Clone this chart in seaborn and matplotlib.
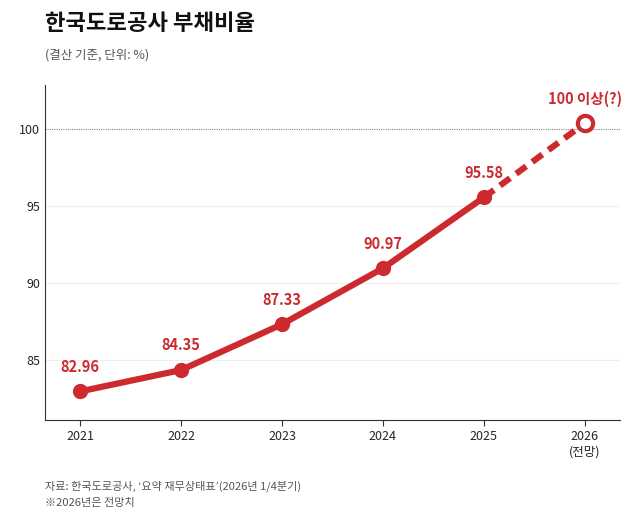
import matplotlib
matplotlib.use("Agg")
import matplotlib.pyplot as plt
import seaborn as sns
import pandas as pd

years = [2021, 2022, 2023, 2024, 2025]
ratios = [82.96, 84.35, 87.33, 90.97, 95.58]
proj_year = 2026
proj_val = 100.4
xtick_labels = ["2021", "2022", "2023", "2024", "2025", "2026\n(전망)"]
yticks = [85, 90, 95, 100]

sns.set_style("white")
plt.rcParams['font.family'] = ['Noto Sans CJK KR', 'DejaVu Sans']
red = "#cc2a2f"

fig = plt.figure(figsize=(6.4, 5.27), dpi=100)
ax = fig.add_axes([0.070, 0.203, 0.899, 0.636])
df = pd.DataFrame({"year": years, "ratio": ratios})
sns.lineplot(data=df, x="year", y="ratio", ax=ax, color=red, lw=4.5,
             marker="o", markersize=11, markeredgewidth=0)
ax.plot([years[-1], proj_year], [ratios[-1], proj_val], color=red, lw=4.5,
        ls=(0, (2, 1.2)), zorder=2)
ax.plot([proj_year], [proj_val], marker="o", ms=11, mfc="white", mec=red,
        mew=3, zorder=3)
for x, y in zip(years, ratios):
    ax.annotate(f"{y:.2f}", (x, y), xytext=(0, 12), textcoords="offset points",
                ha="center", va="bottom", color=red, fontsize=10.5, fontweight="bold")
ax.annotate("100 이상(?)", (proj_year, proj_val), xytext=(0, 12), textcoords="offset points",
            ha="center", va="bottom", color=red, fontsize=10.5, fontweight="bold")

ax.axhline(100, color="#888888", lw=0.8, ls=(0, (1, 1)), zorder=0)
for t in [85, 90, 95]:
    ax.axhline(t, color="#eeeeee", lw=0.8, zorder=0)
ax.set_xlim(2020.65, 2026.35)
ax.set_ylim(81.1, 102.9)
ax.set_xticks(years + [proj_year])
ax.set_xticklabels(xtick_labels, fontsize=9)
ax.set_yticks(yticks)
ax.tick_params(axis="y", labelsize=9, length=0)
ax.tick_params(axis="x", length=4, color="#333333", bottom=True)
ax.set_xlabel("")
ax.set_ylabel("")
for s in ["top", "right"]:
    ax.spines[s].set_visible(False)
ax.spines["left"].set_color("#333333")
ax.spines["bottom"].set_color("#333333")

fig.text(0.070, 0.955, "한국도로공사 부채비율", fontsize=16, fontweight="bold", va="center", color="#111111")
fig.text(0.070, 0.895, "(결산 기준, 단위: %)", fontsize=9, color="#555555", va="center")
fig.text(0.070, 0.077, "자료: 한국도로공사, ‘요약 재무상태표’(2026년 1/4분기)", fontsize=8, color="#555555", va="center")
fig.text(0.070, 0.045, "※2026년은 전망치", fontsize=8, color="#555555", va="center")
fig.savefig("out.png", dpi=100)
